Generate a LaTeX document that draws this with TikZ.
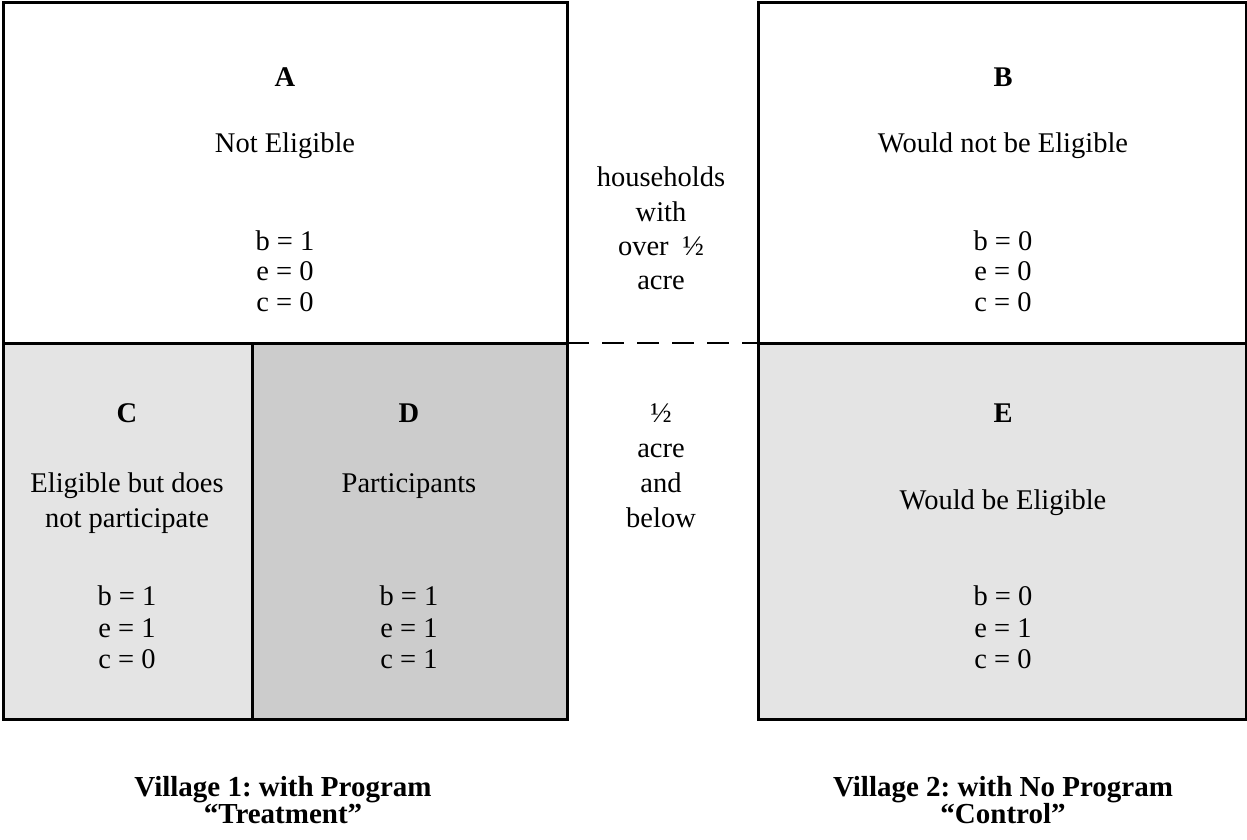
\documentclass[tikz,border=0pt]{standalone}
\usepackage{fontspec}
\setmainfont{Liberation Serif}
\frenchspacing
\definecolor{lightg}{HTML}{E4E4E4}
\definecolor{darkg}{HTML}{CCCCCC}
\tikzset{
  frame/.style={line width=3pt},
  dashline/.style={line width=2.5pt, dash pattern=on 22pt off 13pt},
  lbl/.style={font=\fontsize{28.5}{35.5}\selectfont, anchor=base, inner sep=0pt},
  hdr/.style={font=\fontsize{28.5}{35.5}\selectfont\bfseries, anchor=base, inner sep=0pt},
  caption/.style={font=\fontsize{29}{26.5}\selectfont\bfseries, align=center, inner sep=0pt}
}
\begin{document}
\begin{tikzpicture}[x=1pt,y=-1pt]
\useasboundingbox (0,0) rectangle (1247,840);
% fills
\fill[lightg] (3,343) rectangle (252,719);
\fill[darkg] (252,343) rectangle (567,719);
\fill[lightg] (758,343) rectangle (1248,719);
% frames
\draw[frame] (3,2.5) rectangle (567,719);
\draw[frame] (3,343) -- (567,343);
\draw[frame] (252,343) -- (252,719);
\draw[frame] (758,2.5) rectangle (1246.5,719);
\draw[frame] (758,343) -- (1246.5,343);
\coordinate (dl) at (567,343);
\coordinate (dr) at (758,343);
\draw[dashline] (dl) -- (dr);
% Box A
\node[hdr] (tA) at (285,87) {A};
\node[lbl] (tA1) at (285,152) {Not Eligible};
\node[lbl] (tA2) at (285,250) {b = 1};
\node[lbl] (tA3) at (285,280) {e = 0};
\node[lbl] (tA4) at (285,311) {c = 0};
% Box B
\node[hdr] (tB) at (1003,87) {B};
\node[lbl] (tB1) at (1003,152) {Would not be Eligible};
\node[lbl] (tB2) at (1003,250) {b = 0};
\node[lbl] (tB3) at (1003,280) {e = 0};
\node[lbl] (tB4) at (1003,311) {c = 0};
% middle upper
\node[lbl] (m1) at (661,186) {households};
\node[lbl] (m2) at (661,221) {with};
\node[lbl] (m3) at (661,255) {over\hspace{14pt}½};
\node[lbl] (m4) at (661,289) {acre};
% Box C
\node[hdr] (tC) at (127,422) {C};
\node[lbl] (tC1) at (127,492) {Eligible but does};
\node[lbl] (tC1b) at (127,527) {not participate};
\node[lbl] (tC2) at (127,605) {b = 1};
\node[lbl] (tC3) at (127,637) {e = 1};
\node[lbl] (tC4) at (127,668) {c = 0};
% Box D
\node[hdr] (tD) at (409,422) {D};
\node[lbl] (tD1) at (409,492) {Participants};
\node[lbl] (tD2) at (409,605) {b = 1};
\node[lbl] (tD3) at (409,637) {e = 1};
\node[lbl] (tD4) at (409,668) {c = 1};
% middle lower
\node[lbl] (n1) at (661,422) {½};
\node[lbl] (n2) at (661,457) {acre};
\node[lbl] (n3) at (661,492) {and};
\node[lbl] (n4) at (661,527) {below};
% Box E
\node[hdr] (tE) at (1003,422) {E};
\node[lbl] (tE1) at (1003,509) {Would be Eligible};
\node[lbl] (tE2) at (1003,605) {b = 0};
\node[lbl] (tE3) at (1003,637) {e = 1};
\node[lbl] (tE4) at (1003,668) {c = 0};
% captions
\node[caption] (v1) at (283,800) {Village 1: with Program\\“Treatment”};
\node[caption] (v2) at (1003,800) {Village 2: with No Program\\“Control”};
\end{tikzpicture}
\end{document}
